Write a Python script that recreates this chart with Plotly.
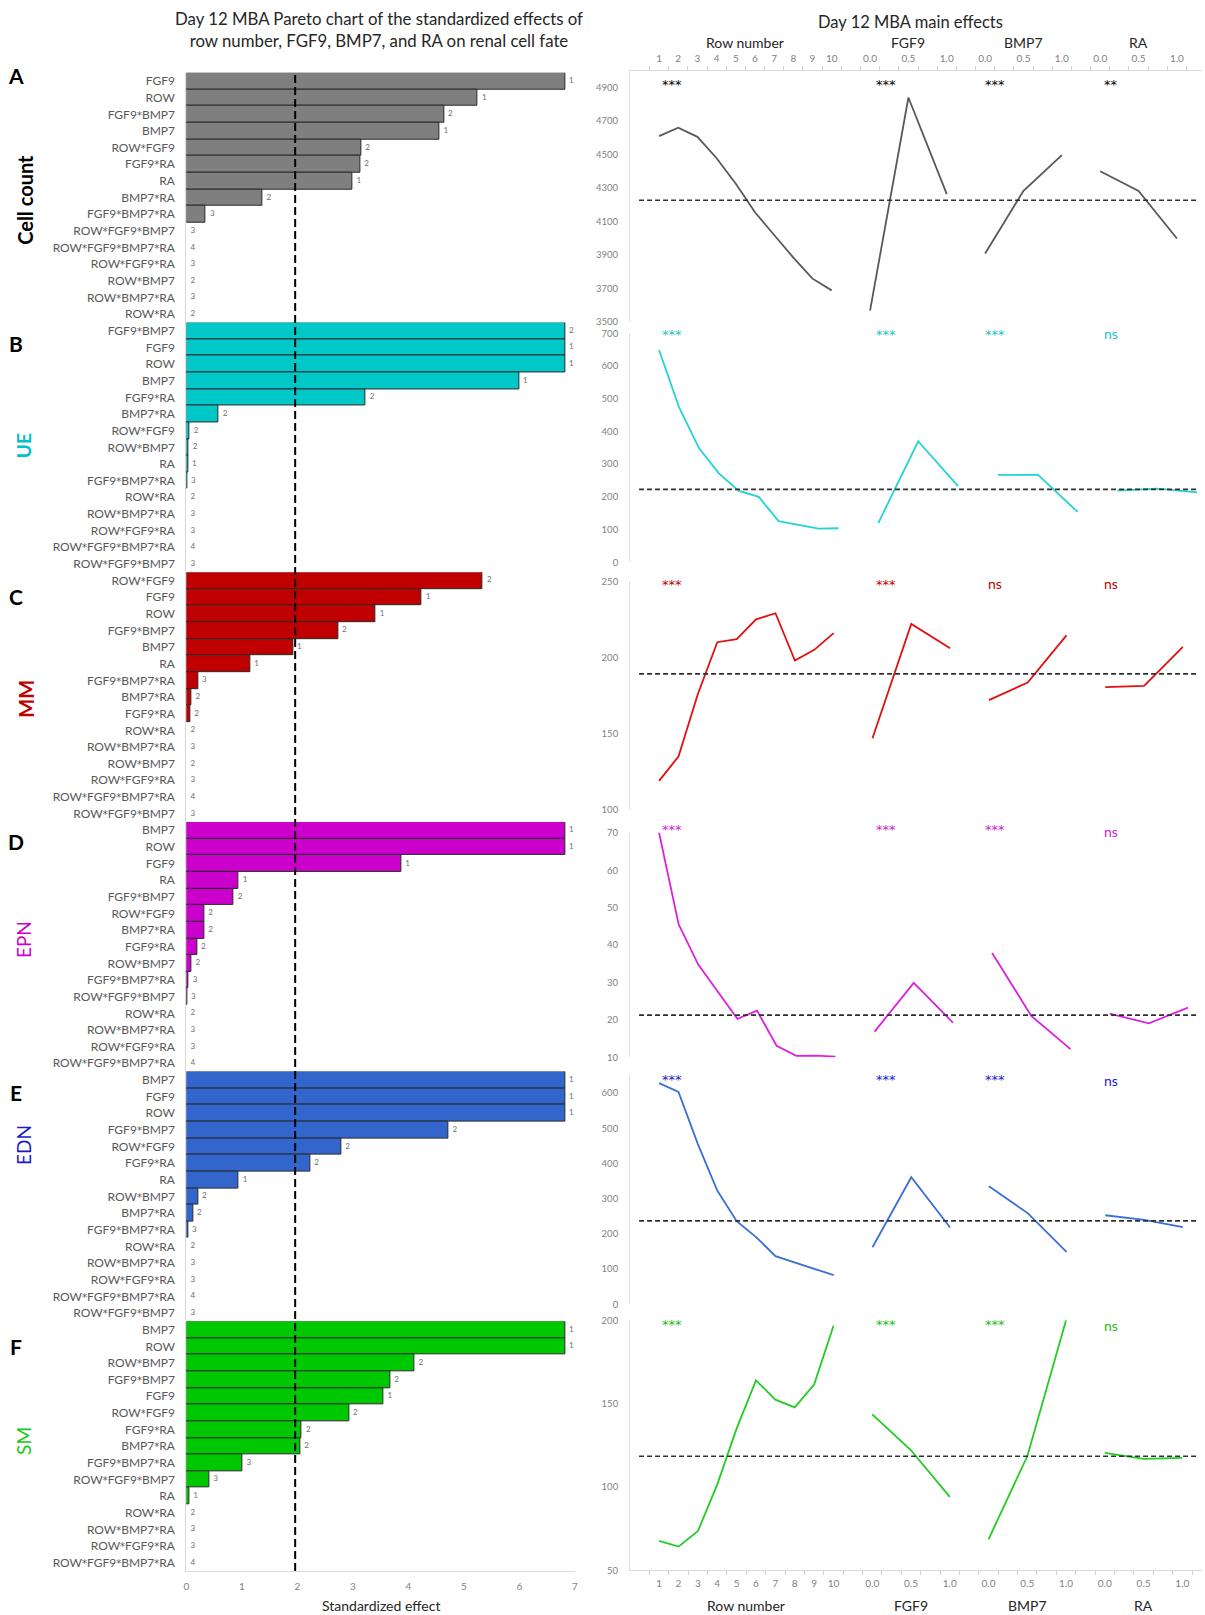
import plotly.graph_objects as go

W, H = 1205, 1615

# ---------------- Pareto data (standardized effects, term order) ----------------
A_terms = ["FGF9", "ROW", "FGF9*BMP7", "BMP7", "ROW*FGF9", "FGF9*RA", "RA", "BMP7*RA",
           "FGF9*BMP7*RA", "ROW*FGF9*BMP7", "ROW*FGF9*BMP7*RA", "ROW*FGF9*RA", "ROW*BMP7",
           "ROW*BMP7*RA", "ROW*RA"]
A_effects = [6.82, 5.25, 4.64, 4.56, 3.15, 3.13, 2.99, 1.37, 0.35, 0.0, 0.0, 0.0, 0.0, 0.0, 0.0]
A_order = [1, 1, 2, 1, 2, 2, 1, 2, 3, 3, 4, 3, 2, 3, 2]

B_terms = ["FGF9*BMP7", "FGF9", "ROW", "BMP7", "FGF9*RA", "BMP7*RA", "ROW*FGF9", "ROW*BMP7",
           "RA", "FGF9*BMP7*RA", "ROW*RA", "ROW*BMP7*RA", "ROW*FGF9*RA", "ROW*FGF9*BMP7*RA",
           "ROW*FGF9*BMP7"]
B_effects = [6.82, 6.82, 6.82, 5.99, 3.23, 0.58, 0.06, 0.04, 0.03, 0.01, 0.0, 0.0, 0.0, 0.0, 0.0]
B_order = [2, 1, 1, 1, 2, 2, 2, 2, 1, 3, 2, 3, 3, 4, 3]

C_terms = ["ROW*FGF9", "FGF9", "ROW", "FGF9*BMP7", "BMP7", "RA", "FGF9*BMP7*RA", "BMP7*RA",
           "FGF9*RA", "ROW*RA", "ROW*BMP7*RA", "ROW*BMP7", "ROW*FGF9*RA", "ROW*FGF9*BMP7*RA",
           "ROW*FGF9*BMP7"]
C_effects = [5.34, 4.24, 3.41, 2.73, 1.92, 1.15, 0.21, 0.09, 0.07, 0.0, 0.0, 0.0, 0.0, 0.0, 0.0]
C_order = [2, 1, 1, 2, 1, 1, 3, 2, 2, 2, 3, 2, 3, 4, 3]

D_terms = ["BMP7", "ROW", "FGF9", "RA", "FGF9*BMP7", "ROW*FGF9", "BMP7*RA", "FGF9*RA",
           "ROW*BMP7", "FGF9*BMP7*RA", "ROW*FGF9*BMP7", "ROW*RA", "ROW*BMP7*RA", "ROW*FGF9*RA",
           "ROW*FGF9*BMP7*RA"]
D_effects = [6.82, 6.82, 3.87, 0.94, 0.85, 0.32, 0.32, 0.19, 0.09, 0.04, 0.01, 0.0, 0.0, 0.0, 0.0]
D_order = [1, 1, 1, 1, 2, 2, 2, 2, 2, 3, 3, 2, 3, 3, 4]

E_terms = ["BMP7", "FGF9", "ROW", "FGF9*BMP7", "ROW*FGF9", "FGF9*RA", "RA", "ROW*BMP7",
           "BMP7*RA", "FGF9*BMP7*RA", "ROW*RA", "ROW*BMP7*RA", "ROW*FGF9*RA", "ROW*FGF9*BMP7*RA",
           "ROW*FGF9*BMP7"]
E_effects = [6.82, 6.82, 6.82, 4.72, 2.79, 2.23, 0.94, 0.21, 0.12, 0.03, 0.0, 0.0, 0.0, 0.0, 0.0]
E_order = [1, 1, 1, 2, 2, 2, 1, 2, 2, 3, 2, 3, 3, 4, 3]

F_terms = ["BMP7", "ROW", "ROW*BMP7", "FGF9*BMP7", "FGF9", "ROW*FGF9", "FGF9*RA", "BMP7*RA",
           "FGF9*BMP7*RA", "ROW*FGF9*BMP7", "RA", "ROW*RA", "ROW*BMP7*RA", "ROW*FGF9*RA",
           "ROW*FGF9*BMP7*RA"]
F_effects = [6.82, 6.82, 4.11, 3.67, 3.55, 2.93, 2.08, 2.05, 1.01, 0.41, 0.05, 0.0, 0.0, 0.0, 0.0]
F_order = [1, 1, 2, 2, 1, 2, 2, 2, 3, 3, 1, 2, 3, 3, 4]

critical_t = 1.96

# ---------------- Main effects data ----------------
row_numbers = [1, 2, 3, 4, 5, 6, 7, 8, 9, 10]
levels = [0.0, 0.5, 1.0]
factor_names = ["Row number", "FGF9", "BMP7", "RA"]

A_row = [4609, 4659, 4605, 4477, 4324, 4154, 4018, 3883, 3757, 3687]
A_fgf9 = [3566, 4840, 4262]
A_bmp7 = [3907, 4282, 4495]
A_ra = [4399, 4282, 3997]
A_mean = 4226
A_sig = ["***", "***", "***", "**"]

B_row = [649, 474, 349, 272, 218, 200, 126, 114, 103, 104]
B_fgf9 = [120, 370, 233]
B_bmp7 = [267, 268, 154]
B_ra = [219, 225, 214]
B_mean = 223
B_sig = ["***", "***", "***", "ns"]

C_row = [119, 135, 176, 210, 212, 225, 229, 198, 205, 216]
C_fgf9 = [147, 222, 206]
C_bmp7 = [172, 183.5, 214.5]
C_ra = [180.5, 181.3, 207]
C_mean = 189.2
C_sig = ["***", "***", "ns", "ns"]

D_row = [70, 45.5, 34.8, 27.6, 20.3, 22.5, 13.1, 10.4, 10.5, 10.2]
D_fgf9 = [16.9, 29.9, 19.3]
D_bmp7 = [37.9, 21.1, 12.2]
D_ra = [21.7, 19.1, 23.3]
D_mean = 21.3
D_sig = ["***", "***", "***", "ns"]

E_row = [628, 603, 455, 323, 236, 191, 137, 118, 101, 83]
E_fgf9 = [162, 361, 218]
E_bmp7 = [335, 259, 149]
E_ra = [253, 240, 219]
E_mean = 237
E_sig = ["***", "***", "***", "ns"]

F_row = [67.6, 64.2, 73.4, 101.4, 135, 164, 152.4, 147.8, 161.4, 196.8]
F_fgf9 = [143.6, 122, 94]
F_bmp7 = [68.6, 118.4, 200]
F_ra = [120.4, 116.8, 117.4]
F_mean = 118.4
F_sig = ["***", "***", "***", "ns"]

panel_letters = ["A", "B", "C", "D", "E", "F"]
panel_names = ["Cell count", "UE", "MM", "EPN", "EDN", "SM"]

pareto = [(A_terms, A_effects, A_order), (B_terms, B_effects, B_order),
          (C_terms, C_effects, C_order), (D_terms, D_effects, D_order),
          (E_terms, E_effects, E_order), (F_terms, F_effects, F_order)]
effects = [(A_row, A_fgf9, A_bmp7, A_ra, A_mean, A_sig),
           (B_row, B_fgf9, B_bmp7, B_ra, B_mean, B_sig),
           (C_row, C_fgf9, C_bmp7, C_ra, C_mean, C_sig),
           (D_row, D_fgf9, D_bmp7, D_ra, D_mean, D_sig),
           (E_row, E_fgf9, E_bmp7, E_ra, E_mean, E_sig),
           (F_row, F_fgf9, F_bmp7, F_ra, F_mean, F_sig)]

# ---------------- styles / layout constants ----------------
bar_colors = ["#7f7f7f", "#00c8c8", "#c00000", "#cc00cc", "#3366cc", "#00c800"]
line_colors = ["#595959", "#22d3d3", "#e01010", "#dd22dd", "#3a6fd8", "#22cc22"]
sig_colors = ["#000000", "#22c4c4", "#c00000", "#cc22cc", "#1a1acc", "#22bb22"]
name_colors = ["#000000", "#00c0c8", "#c00000", "#cc00cc", "#1a1acc", "#22c822"]
name_bold = [True, True, True, False, False, False]
y_ranges = [(3500, 5000, 200), (0, 700, 100), (100, 250, 50), (10, 70, 10), (0, 650, 100), (50, 200, 50)]
right_dom_px = [(70, 321), (332.7, 561.7), (580.7, 809.3), (832.3, 1057), (1075, 1304), (1320, 1570)]
slot_pitch_px = [19.15, 19.9, 19.37, 19.56, 19.37, 19.35]
star_y_px = [83, 333, 583, 829, 1079, 1324]
ns_y_px = [86, 333, 583, 831, 1080, 1325]
sig_x_px = [672, 886, 994.5, 1110.5]
letter_y_px = [75, 343, 596, 841, 1092, 1346]
name_y_px = [199, 445, 698, 939, 1145, 1441]
name_x_px = [26, 24.5, 26, 24.5, 24.5, 24.5]
FONT = "Lato"
STAR_FONT = "DejaVu Sans"

# the photographed page comes out very slightly shrunk about its centre;
# target pixel positions are mapped so the final picture lands on them
SHRINK = 0.9935
CX, CY = W / 2, H / 2


def px_x(p):
    q = CX + (p - CX) / SHRINK
    return min(max(q / W, 0.0), 1.0)


def px_y(p):
    q = CY + (p - CY) / SHRINK
    return min(max(1 - q / H, 0.0), 1.0)


def star_html(term):
    return term.replace("*", f"<span style='font-family:{STAR_FONT};font-size:10px'>*</span>")


# slot positions on the categorical main-effects axis
row_slots = [r - 1 for r in row_numbers]
factor_slots = [[11 + 6 * k + 2 * j for j in range(len(levels))] for k in range(3)]
tick_slots = row_slots + [s for fs in factor_slots for s in fs]
tick_text = [str(r) for r in row_numbers] + [f"{lv:.1f}" for _ in range(3) for lv in levels]
group_centers = [sum(row_slots) / len(row_slots)] + [fs[1] for fs in factor_slots]
minor_slots = [s + 0.5 for s in range(-1, 28)]

fig = go.Figure()
layout = dict(width=W, height=H, autosize=False, margin=dict(l=0, r=0, t=0, b=0),
              paper_bgcolor="white", plot_bgcolor="rgba(0,0,0,0)", showlegend=False,
              font=dict(family=FONT, color="#404040"), bargap=0)
annotations = []
shapes = []

left_top, left_bot = 72.0, 1570.8
ph = (left_bot - left_top) / 6
right_x0, right_x1, slot0_px = 630.0, 1201.0, 659.0

for i in range(6):
    # ---- Pareto subplot ----
    n = i + 1
    xa = "xaxis" if n == 1 else f"xaxis{n}"
    ya = "yaxis" if n == 1 else f"yaxis{n}"
    top = left_top + i * ph
    bot = top + ph
    terms, effs, orders = pareto[i]
    layout[xa] = dict(domain=[px_x(187), px_x(575)], range=[0, 7], anchor=f"y{n}",
                      showgrid=False, zeroline=False, showline=(i == 5), linecolor="#d9d9d9",
                      showticklabels=(i == 5), tickmode="array", tickvals=list(range(8)),
                      tickfont=dict(size=10, color="#7f7f7f"), ticks="", ticklabelstandoff=6)
    layout[ya] = dict(domain=[px_y(bot), px_y(top)], anchor=f"x{n}", type="category",
                      range=[14.5, -0.5], showgrid=False, zeroline=False, showline=True,
                      linecolor="#d9d9d9", tickfont=dict(size=12, color="#595959"), ticks="",
                      tickmode="array", tickvals=terms, ticktext=[star_html(t) for t in terms],
                      ticklabelstandoff=8)
    fig.add_trace(go.Bar(x=effs, y=terms, orientation="h", xaxis=f"x{n}", yaxis=f"y{n}",
                         marker=dict(color=bar_colors[i],
                                     line=dict(color="#2a2a2a",
                                               width=[1 if v > 0.005 else 0 for v in effs]))))
    fig.add_trace(go.Scatter(x=effs, y=terms, mode="text",
                             text=["\u00a0\u00a0" + str(o) for o in orders],
                             textposition="middle right", xaxis=f"x{n}", yaxis=f"y{n}",
                             textfont=dict(size=8, color="#707070", family=FONT), cliponaxis=False))

    # ---- Main effects subplot ----
    m = i + 7
    xb = f"xaxis{m}"
    yb = f"yaxis{m}"
    t_px, b_px = right_dom_px[i]
    p = slot_pitch_px[i]
    xr = [(right_x0 - slot0_px) / p, (right_x1 - slot0_px) / p]
    is_top = i == 0
    is_bot = i == 5
    layout[xb] = dict(domain=[px_x(right_x0), px_x(right_x1)], range=xr, anchor=f"y{m}",
                      side="top" if is_top else "bottom", showgrid=False, zeroline=False,
                      showline=(is_top or is_bot), linecolor="#d9d9d9",
                      showticklabels=(is_top or is_bot), tickmode="array", tickvals=tick_slots,
                      ticktext=tick_text, ticks="", tickfont=dict(size=10, color="#7f7f7f"),
                      ticklabelstandoff=4,
                      minor=dict(tickvals=minor_slots, ticks="outside" if (is_top or is_bot) else "",
                                 ticklen=4, tickcolor="#d0d0d0", showgrid=False))
    y0, y1, dt = y_ranges[i]
    layout[yb] = dict(domain=[px_y(b_px), px_y(t_px)], range=[y0, y1], anchor=f"x{m}",
                      showgrid=False, zeroline=False, showline=True, linecolor="#e0e0e0",
                      tickmode="linear", tick0=y0, dtick=dt, ticks="",
                      tickfont=dict(size=9.5, color="#7f7f7f"), ticklabelstandoff=9)
    rows, fg, bm, ra, mean, sig = effects[i]
    xs, ys = list(row_slots), list(rows)
    for fs, vals in zip(factor_slots, [fg, bm, ra]):
        xs += [None] + fs
        ys += [None] + list(vals)
    fig.add_trace(go.Scatter(x=xs, y=ys, mode="lines", xaxis=f"x{m}", yaxis=f"y{m}",
                             line=dict(color=line_colors[i], width=1.8), connectgaps=False,
                             cliponaxis=False))
    shapes.append(dict(type="line", xref="paper", yref=f"y{m}", x0=px_x(639), x1=px_x(1197),
                       y0=mean, y1=mean, line=dict(color="#303030", width=1.6, dash="5px,3px")))
    for k, s in enumerate(sig):
        is_ns = s == "ns"
        ypos = ns_y_px[i] if is_ns else star_y_px[i] + 0.5
        annotations.append(dict(xref="paper", yref="paper", x=px_x(sig_x_px[k]), y=px_y(ypos),
                                text=s, showarrow=False, xanchor="center", yanchor="middle",
                                font=dict(size=14 if is_ns else 13, color=sig_colors[i],
                                          family=FONT if is_ns else STAR_FONT)))

    # ---- panel letters and names ----
    annotations.append(dict(xref="paper", yref="paper", x=px_x(17), y=px_y(letter_y_px[i]),
                            text=f"<b>{panel_letters[i]}</b>", showarrow=False,
                            xanchor="center", yanchor="middle",
                            font=dict(size=21, color="black", family=FONT)))
    txt = f"<b>{panel_names[i]}</b>" if name_bold[i] else panel_names[i]
    annotations.append(dict(xref="paper", yref="paper", x=px_x(name_x_px[i]), y=px_y(name_y_px[i]),
                            text=txt, showarrow=False, xanchor="center", yanchor="middle",
                            textangle=-90,
                            font=dict(size=20 if i in (0, 2) else 19, color=name_colors[i], family=FONT)))

# critical value line on the Pareto charts
shapes.append(dict(type="line", xref="x", yref="paper", x0=critical_t, x1=critical_t,
                   y0=px_y(left_bot), y1=px_y(left_top),
                   line=dict(color="black", width=2, dash="8px,4px")))

# titles
annotations.append(dict(xref="paper", yref="paper", x=px_x(379), y=px_y(29),
                        text="Day 12 MBA Pareto chart of the standardized effects of<br>row number, FGF9, BMP7, and RA on renal cell fate",
                        showarrow=False, xanchor="center", yanchor="middle", align="center",
                        font=dict(size=16.8, color="#262626", family=FONT)))
annotations.append(dict(xref="paper", yref="paper", x=px_x(910), y=px_y(21), text="Day 12 MBA main effects",
                        showarrow=False, xanchor="center", yanchor="middle",
                        font=dict(size=16.5, color="#262626", family=FONT)))
annotations.append(dict(xref="paper", yref="paper", x=px_x(381), y=px_y(1605), text="Standardized effect",
                        showarrow=False, xanchor="center", yanchor="middle",
                        font=dict(size=14, color="#262626", family=FONT)))
for gc, gname in zip(group_centers, factor_names):
    for ax_i, ypx in ((0, 42), (5, 1605)):
        pxx = slot0_px + gc * slot_pitch_px[ax_i]
        annotations.append(dict(xref="paper", yref="paper", x=px_x(pxx), y=px_y(ypx), text=gname,
                                showarrow=False, xanchor="center", yanchor="middle",
                                font=dict(size=14, color="#262626", family=FONT)))

layout["annotations"] = annotations
layout["shapes"] = shapes
fig.update_layout(**layout)
fig.write_html("out.html", config={"displayModeBar": False},
               post_script="document.body.style.margin='0';document.body.style.padding='0';"
                           "document.documentElement.style.overflow='hidden';"
                           "var gd=document.getElementsByClassName('plotly-graph-div')[0];"
                           "gd.style.position='fixed';gd.style.left='0px';gd.style.top='0px';")
